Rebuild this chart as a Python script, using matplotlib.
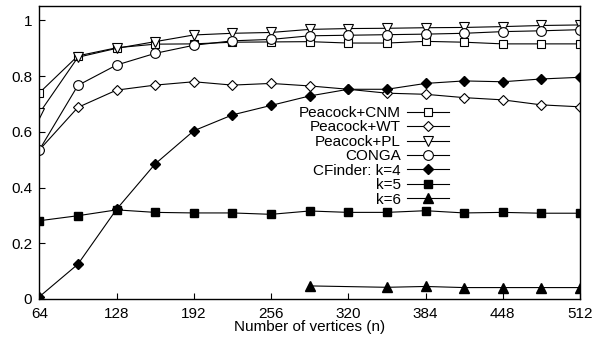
import numpy as np
import matplotlib
matplotlib.use("Agg")
import matplotlib.pyplot as plt

plt.rcParams['font.family'] = ['Liberation Sans', 'DejaVu Sans']

# x positions (number of vertices)
n = [64, 96, 128, 160, 192, 224, 256, 288, 320, 352, 384, 416, 448, 480, 512]
n_k6 = [288, 352, 384, 416, 448, 480, 512]

peacock_cnm = [0.740, 0.873, 0.902, 0.915, 0.916, 0.922, 0.923, 0.924, 0.919,
               0.919, 0.925, 0.922, 0.916, 0.916, 0.916]
peacock_wt = [0.535, 0.688, 0.750, 0.768, 0.780, 0.768, 0.774, 0.765, 0.753,
              0.739, 0.735, 0.723, 0.715, 0.697, 0.690]
peacock_pl = [0.667, 0.868, 0.900, 0.924, 0.948, 0.954, 0.957, 0.968, 0.971,
              0.972, 0.974, 0.975, 0.978, 0.982, 0.984]
conga = [0.535, 0.767, 0.840, 0.882, 0.911, 0.927, 0.932, 0.945, 0.947,
         0.949, 0.951, 0.954, 0.960, 0.963, 0.967]
cfinder_k4 = [0.008, 0.125, 0.322, 0.485, 0.604, 0.661, 0.695, 0.729, 0.753,
              0.753, 0.774, 0.783, 0.780, 0.790, 0.796]
cfinder_k5 = [0.281, 0.299, 0.320, 0.311, 0.309, 0.309, 0.304, 0.316, 0.311,
              0.311, 0.317, 0.309, 0.311, 0.308, 0.308]
cfinder_k6 = [0.047, 0.042, 0.045, 0.041, 0.041, 0.041, 0.041]

fig = plt.figure(figsize=(5.96, 3.40), dpi=100)
ax = fig.add_axes([39.3/596, 41/340, (580-39.3)/596, (299-6)/340])

lw = 0.8
ms = 7
ax.plot(n, peacock_cnm, 'k-', lw=lw, marker='s', ms=6, mfc='white', mec='k', mew=0.8, label='Peacock+CNM')
ax.plot(n, peacock_wt, 'k-', lw=lw, marker='D', ms=5.5, mfc='white', mec='k', mew=0.8, label='Peacock+WT')
ax.plot(n, peacock_pl, 'k-', lw=lw, marker='v', ms=ms, mfc='white', mec='k', mew=0.8, label='Peacock+PL')
ax.plot(n, conga, 'k-', lw=lw, marker='o', ms=ms, mfc='white', mec='k', mew=0.8, label='CONGA')
ax.plot(n, cfinder_k4, 'k-', lw=lw, marker='D', ms=5.5, mfc='k', mec='k', label='CFinder: k=4')
ax.plot(n, cfinder_k5, 'k-', lw=lw, marker='s', ms=6, mfc='k', mec='k', label='k=5')
ax.plot(n_k6, cfinder_k6, 'k-', lw=lw, marker='^', ms=ms, mfc='k', mec='k', label='k=6')

ax.set_xlim(64, 512)
ax.set_ylim(0, 1.052)
ax.set_xticks(np.arange(64, 513, 64))
ax.set_yticks([0, 0.2, 0.4, 0.6, 0.8, 1])
ax.set_yticklabels(['0', '0.2', '0.4', '0.6', '0.8', '1'])
ax.tick_params(direction='in', length=4, width=0.8, labelsize=11)
ax.tick_params(axis='x', pad=6)
ax.tick_params(axis='y', pad=5)
for s in ax.spines.values():
    s.set_linewidth(1.0)
ax.set_xlabel('Number of vertices (n)', fontsize=11, labelpad=-1)

leg = ax.legend(loc='upper right', bbox_to_anchor=(449/596, 1 - 106/340),
                bbox_transform=fig.transFigure, frameon=False, markerfirst=False,
                fontsize=11, handlelength=2.75, handletextpad=0.4,
                labelspacing=0.03, borderpad=0, borderaxespad=0)
# right-align the legend texts (gnuplot style key)
for col in leg._legend_handle_box.get_children():
    col.align = 'right'

fig.savefig('out.png', dpi=100)
